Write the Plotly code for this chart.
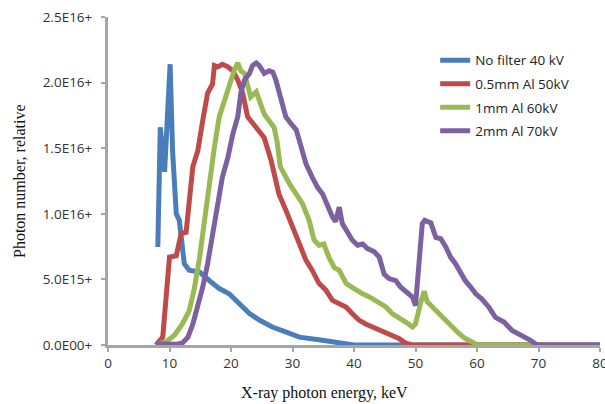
import plotly.graph_objects as go

# ---- data ----
blue_x = [8.1, 8.5, 9.2, 10.1, 10.5, 11.1, 11.6, 12.4, 13.2, 14.9, 16.5, 18.1, 19.7, 21.3, 23.0, 24.6,
          26.7, 28.9, 31.1, 34.3, 37.6, 40.0, 45, 50, 60, 70, 80]
blue_y = [7.47, 16.6, 13.2, 21.4, 14.8, 10.0, 9.5, 6.2, 5.7, 5.56, 4.9, 4.3, 3.9, 3.2, 2.4, 1.9,
          1.37, 1.0, 0.6, 0.4, 0.18, 0, 0, 0, 0, 0, 0]

red_x = [7.8, 8.9, 10.0, 11.1, 11.9, 12.7, 13.8, 14.6, 15.4, 16.2, 17.0, 17.3, 17.8, 18.6, 19.5, 20.3,
         21.1, 21.9, 22.7, 23.5, 24.3, 25.4, 26.5, 27.8, 28.9, 30.0, 31.1, 32.2, 33.2, 34.3, 35.4,
         36.5, 37.6, 38.7, 39.7, 40.8, 41.9, 43.0, 44.1, 45.2, 46.2, 47.3, 48.4, 49.5, 60, 70, 80]
red_y = [0, 0.6, 6.7, 6.8, 8.5, 8.6, 13.6, 14.8, 17.1, 19.2, 19.9, 21.3, 21.2, 21.4, 21.2, 20.9,
         20.2, 19.2, 17.4, 16.9, 16.4, 15.8, 14.1, 11.5, 10.3, 9.0, 7.7, 6.45, 5.7, 4.7, 4.2,
         3.4, 3.15, 2.9, 2.4, 1.9, 1.6, 1.37, 1.1, 0.87, 0.74, 0.49, 0.15, 0, 0, 0, 0]

green_x = [8.1, 9.4, 10.8, 12.1, 13.2, 14.0, 14.9, 15.7, 16.5, 17.3, 18.1, 18.9, 19.7, 20.5, 21.1, 21.6,
           22.2, 22.7, 23.2, 24.1, 24.6, 25.4, 26.2, 27.0, 27.5, 28.0, 29.5, 30.6, 31.6, 32.7, 33.5,
           34.3, 35.1, 35.9, 36.8, 37.6, 38.7, 39.7, 40.3, 41.4, 42.5, 43.5, 44.1, 45.2, 46.2, 47.3,
           48.4, 49.5, 50.0, 50.8, 51.4, 51.9, 52.7, 53.8, 54.9, 56.0, 57.1, 58.1, 59.2, 60.0, 70, 80]
green_y = [0.1, 0.23, 0.74, 1.6, 2.6, 4.2, 6.7, 9.75, 12.3, 15.1, 17.4, 18.6, 19.9, 20.9, 21.5, 20.9,
           20.7, 19.7, 18.9, 19.3, 18.6, 17.6, 17.1, 16.6, 15.5, 13.6, 12.3, 11.5, 10.8, 9.5, 8.0,
           7.6, 7.7, 6.7, 5.9, 5.7, 4.7, 4.4, 4.2, 3.9, 3.66, 3.4, 3.15, 2.9, 2.4, 2.1,
           1.75, 1.37, 1.6, 3.15, 4.1, 3.3, 2.9, 2.4, 1.9, 1.37, 0.87, 0.49, 0.23, 0, 0, 0]

purple_x = [7.8, 9, 10, 11, 12.1, 13.0, 13.8, 14.6, 15.4, 16.2, 17.0, 17.8, 18.6, 19.5, 20.3, 21.1,
            21.6, 22.2, 23.0, 23.5, 24.1, 24.6, 25.4, 26.2, 26.8, 27.3, 28.1, 28.9, 29.7, 30.6, 31.1,
            32.2, 33.2, 34.1, 34.9, 35.7, 36.5, 37.0, 37.6, 38.1, 38.9, 39.7, 40.6, 41.4, 42.2, 43.3,
            44.1, 44.9, 45.7, 46.8, 47.6, 48.7, 49.5, 50.0, 50.6, 51.1, 51.5, 52.5, 53.3, 54.1, 54.9,
            55.7, 56.5, 57.3, 58.1, 59.0, 59.8, 60.8, 61.9, 63.0, 64.4, 65.7, 67.3, 68.7, 69.8, 80]
purple_y = [0.1, 0.05, 0.05, 0.05, 0.15, 0.6, 1.6, 2.9, 4.4, 6.2, 8.5, 11.0, 12.8, 14.3, 16.1, 17.4,
            19.2, 20.2, 20.7, 21.3, 21.5, 21.3, 20.7, 20.9, 20.8, 20.2, 18.6, 17.4, 16.9, 16.4, 15.6,
            13.8, 12.8, 12.0, 11.5, 10.5, 9.75, 9.4, 10.5, 9.25, 8.7, 8.0, 7.6, 7.7, 7.35, 7.1,
            6.7, 5.4, 5.06, 4.9, 4.4, 3.9, 3.66, 3.0, 5.9, 9.25, 9.5, 9.3, 8.2, 8.1, 7.5,
            6.7, 6.2, 5.5, 4.9, 4.4, 3.9, 3.5, 2.9, 2.1, 1.75, 1.1, 0.74, 0.36, 0, 0]

series_names = ["No filter 40 kV", "0.5mm Al 50kV", "1mm Al 60kV", "2mm Al 70kV"]
colors = ["#4A7EBB", "#BE4B48", "#98B954", "#7D60A0"]
scale = 1e15

y_tickvals = [0, 5e15, 1e16, 1.5e16, 2e16, 2.5e16]
y_ticktext = ["0.0E00+", "5.0E15+", "1.0E16+", "1.5E16+", "2.0E16+", "2.5E16+"]
x_tickvals = [0, 10, 20, 30, 40, 50, 60, 70, 80]

fig = go.Figure()
for i, (name, xs, ys, c) in enumerate(zip(series_names,
                           [blue_x, red_x, green_x, purple_x],
                           [blue_y, red_y, green_y, purple_y], colors)):
    fig.add_trace(go.Scatter(x=xs, y=[v * scale for v in ys], mode="lines", name=name,
                             legendgroup=f"g{i}",
                             line=dict(color=c, width=5)))

tick_font = dict(family="Open Sans", size=13.5, color="#333333")
fig.update_layout(
    width=605, height=404,
    margin=dict(l=108, r=5, t=17, b=59),
    paper_bgcolor="white", plot_bgcolor="white",
    showlegend=True,
    legend=dict(x=0.665, y=0.915, xanchor="left", yanchor="top",
                font=dict(family="Open Sans", size=13.5, color="#222222"),
                tracegroupgap=3, itemwidth=30, bgcolor="rgba(0,0,0,0)"),
    xaxis=dict(range=[0, 80], tickvals=x_tickvals, showgrid=False, zeroline=False,
               showline=True, linecolor="#A6A6A6", linewidth=3,
               ticks="outside", ticklen=4, tickwidth=2, tickcolor="#A6A6A6",
               tickfont=tick_font, ticklabeloverflow="allow", automargin=False),
    yaxis=dict(range=[0, 2.5e16], tickvals=y_tickvals, ticktext=y_ticktext, showgrid=False,
               zeroline=False, showline=True, linecolor="#A6A6A6", linewidth=3,
               ticks="outside", ticklen=4, tickwidth=2, tickcolor="#A6A6A6",
               tickfont=tick_font, ticklabelstandoff=6, ticklabeloverflow="allow",
               automargin=False),
    annotations=[
        dict(text="X-ray photon energy, keV", xref="paper", yref="paper",
             x=(324 - 108) / 492, y=-0.145, xanchor="center", yanchor="middle",
             showarrow=False, font=dict(family="Liberation Serif", size=16, color="#111111")),
        dict(text="Photon number, relative", xref="paper", yref="paper",
             x=-(108 - 19) / 492, y=0.5, xanchor="center", yanchor="middle", textangle=-90,
             showarrow=False, font=dict(family="Liberation Serif", size=16, color="#111111")),
    ],
)

fig.write_html("out.html")
